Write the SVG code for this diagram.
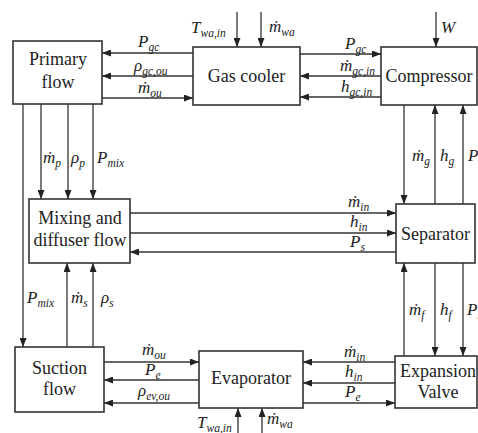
<svg xmlns="http://www.w3.org/2000/svg" width="478" height="433" viewBox="0 0 478 433">
<defs>
<marker id="ah" markerUnits="userSpaceOnUse" markerWidth="9" markerHeight="7" refX="9" refY="3.5" orient="auto">
<path d="M0,0 L9,3.5 L0,7 z" fill="#222"/>
</marker>
<style>
.box{fill:#fff;stroke:#333;stroke-width:1.6}
.lbl{font-family:"Liberation Serif","Times New Roman",serif;font-size:18px;fill:#222;text-anchor:middle}
.c{stroke:#333;stroke-width:1.3;fill:none;marker-end:url(#ah)}
.m{font-family:"Liberation Serif","Times New Roman",serif;font-style:italic;font-size:17px;fill:#222}
.s{font-size:11.5px}
</style>
</defs>
<rect width="478" height="433" fill="#fff"/>

<g id="connectors">
<line class="c" x1="237" y1="12" x2="237" y2="47"/>
<line class="c" x1="261" y1="12" x2="261" y2="47"/>
<line class="c" x1="436" y1="12" x2="436" y2="47"/>
<line class="c" x1="193" y1="53" x2="102" y2="53"/>
<line class="c" x1="193" y1="76" x2="102" y2="76"/>
<line class="c" x1="102" y1="98" x2="193" y2="98"/>
<line class="c" x1="300" y1="54" x2="381" y2="54"/>
<line class="c" x1="381" y1="76" x2="300" y2="76"/>
<line class="c" x1="381" y1="97" x2="300" y2="97"/>
<line class="c" x1="23" y1="104" x2="23" y2="347"/>
<line class="c" x1="41" y1="104" x2="41" y2="199"/>
<line class="c" x1="68" y1="104" x2="68" y2="199"/>
<line class="c" x1="93" y1="104" x2="93" y2="199"/>
<line class="c" x1="67" y1="347" x2="67" y2="263"/>
<line class="c" x1="93" y1="347" x2="93" y2="263"/>
<line class="c" x1="130" y1="213" x2="396" y2="213"/>
<line class="c" x1="130" y1="233" x2="396" y2="233"/>
<line class="c" x1="396" y1="252" x2="130" y2="252"/>
<line class="c" x1="404" y1="105" x2="404" y2="204"/>
<line class="c" x1="435" y1="204" x2="435" y2="105"/>
<line class="c" x1="463" y1="204" x2="463" y2="105"/>
<line class="c" x1="404" y1="356" x2="404" y2="263"/>
<line class="c" x1="435" y1="263" x2="435" y2="356"/>
<line class="c" x1="463" y1="263" x2="463" y2="356"/>
<line class="c" x1="104" y1="362" x2="199" y2="362"/>
<line class="c" x1="199" y1="380" x2="104" y2="380"/>
<line class="c" x1="199" y1="403" x2="104" y2="403"/>
<line class="c" x1="395" y1="362" x2="303" y2="362"/>
<line class="c" x1="395" y1="383" x2="303" y2="383"/>
<line class="c" x1="303" y1="403" x2="395" y2="403"/>
<line class="c" x1="238" y1="433" x2="238" y2="408"/>
<line class="c" x1="262" y1="433" x2="262" y2="408"/>

<text class="m" x="191" y="33">T<tspan class="s" dy="4">wa,in</tspan></text>
<text class="m" x="269" y="32">ṁ<tspan class="s" dy="4">wa</tspan></text>
<text class="m" x="441" y="33">W</text>
<text class="m" x="138" y="47">P<tspan class="s" dy="4">gc</tspan></text>
<text class="m" x="134" y="71">ρ<tspan class="s" dy="4">gc,ou</tspan></text>
<text class="m" x="138" y="93">ṁ<tspan class="s" dy="4">ou</tspan></text>
<text class="m" x="345" y="49">P<tspan class="s" dy="4">gc</tspan></text>
<text class="m" x="340" y="71">ṁ<tspan class="s" dy="4">gc,in</tspan></text>
<text class="m" x="341" y="92">h<tspan class="s" dy="4">gc,in</tspan></text>
<text class="m" x="43" y="163">ṁ<tspan class="s" dy="4">p</tspan></text>
<text class="m" x="71" y="163">ρ<tspan class="s" dy="4">p</tspan></text>
<text class="m" x="97" y="163">P<tspan class="s" dy="4">mix</tspan></text>
<text class="m" x="27" y="303">P<tspan class="s" dy="4">mix</tspan></text>
<text class="m" x="71" y="303">ṁ<tspan class="s" dy="4">s</tspan></text>
<text class="m" x="101" y="303">ρ<tspan class="s" dy="4">s</tspan></text>
<text class="m" x="348" y="207">ṁ<tspan class="s" dy="4">in</tspan></text>
<text class="m" x="350" y="227">h<tspan class="s" dy="4">in</tspan></text>
<text class="m" x="350" y="247">P<tspan class="s" dy="4">s</tspan></text>
<text class="m" x="412" y="161">ṁ<tspan class="s" dy="4">g</tspan></text>
<text class="m" x="440" y="161">h<tspan class="s" dy="4">g</tspan></text>
<text class="m" x="468" y="161">P<tspan class="s" dy="4">s</tspan></text>
<text class="m" x="409" y="315">ṁ<tspan class="s" dy="4">f</tspan></text>
<text class="m" x="440" y="315">h<tspan class="s" dy="4">f</tspan></text>
<text class="m" x="467" y="315">P<tspan class="s" dy="4">s</tspan></text>
<text class="m" x="142" y="355">ṁ<tspan class="s" dy="4">ou</tspan></text>
<text class="m" x="145" y="375">P<tspan class="s" dy="4">e</tspan></text>
<text class="m" x="138" y="396">ρ<tspan class="s" dy="4">ev,ou</tspan></text>
<text class="m" x="344" y="357">ṁ<tspan class="s" dy="4">in</tspan></text>
<text class="m" x="345" y="377">h<tspan class="s" dy="4">in</tspan></text>
<text class="m" x="345" y="397">P<tspan class="s" dy="4">e</tspan></text>
<text class="m" x="197" y="428">T<tspan class="s" dy="4">wa,in</tspan></text>
<text class="m" x="267" y="424">ṁ<tspan class="s" dy="4">wa</tspan></text>
</g>

<g id="primary-flow">
<rect class="box" x="13" y="41" width="89" height="63"/>
<text class="lbl" x="58" y="65">Primary</text>
<text class="lbl" x="58" y="88">flow</text>
</g>
<g id="gas-cooler">
<rect class="box" x="193" y="47" width="107" height="58"/>
<text class="lbl" x="246.5" y="82">Gas cooler</text>
</g>
<g id="compressor">
<rect class="box" x="381" y="47" width="96" height="58"/>
<text class="lbl" x="429" y="82">Compressor</text>
</g>
<g id="mixing-diffuser">
<rect class="box" x="29" y="199" width="101" height="64"/>
<text class="lbl" x="80" y="224">Mixing and</text>
<text class="lbl" x="80" y="246">diffuser flow</text>
</g>
<g id="separator">
<rect class="box" x="396" y="204" width="79" height="59"/>
<text class="lbl" x="435.5" y="240">Separator</text>
</g>
<g id="suction-flow">
<rect class="box" x="15" y="347" width="89" height="65"/>
<text class="lbl" x="59.5" y="374">Suction</text>
<text class="lbl" x="59.5" y="395">flow</text>
</g>
<g id="evaporator">
<rect class="box" x="199" y="351" width="104" height="57"/>
<text class="lbl" x="251" y="384">Evaporator</text>
</g>
<g id="expansion-valve">
<rect class="box" x="395" y="356" width="82" height="52"/>
<text class="lbl" x="438" y="377">Expansion</text>
<text class="lbl" x="438" y="398">Valve</text>
</g>
</svg>
